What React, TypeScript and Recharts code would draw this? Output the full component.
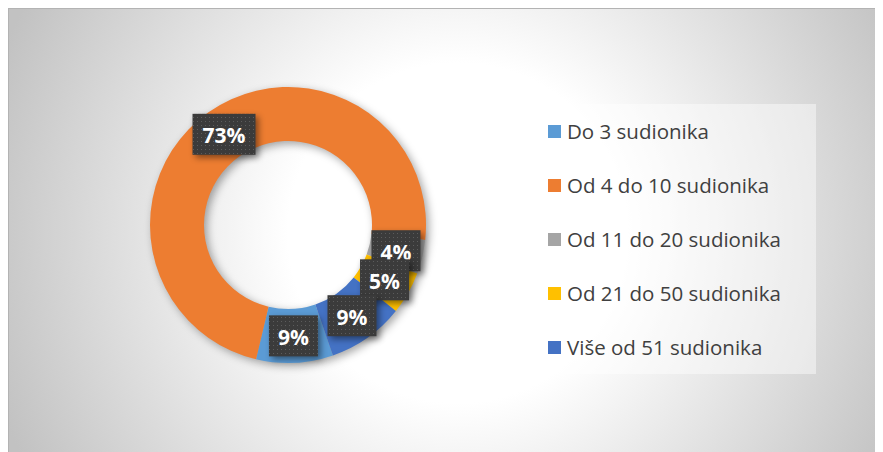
import React from 'react';
import { PieChart, Pie, Cell, Legend } from 'recharts';

const categories = [
  'Do 3 sudionika',
  'Od 4 do 10 sudionika',
  'Od 11 do 20 sudionika',
  'Od 21 do 50 sudionika',
  'Više od 51 sudionika',
];
const shares = [9, 73, 4, 5, 9];
const colors = ['#5B9BD5', '#ED7D31', '#A5A5A5', '#FFC000', '#4472C4'];

const data = categories.map((name, i) => ({ name, value: shares[i] }));

const RAD = Math.PI / 180;

const renderLabel = (props: any) => {
  const { cx, cy, midAngle, innerRadius, outerRadius, percent, index } = props;
  const r = (innerRadius + outerRadius) / 2;
  const x = cx + r * Math.cos(-midAngle * RAD);
  const y = cy + r * Math.sin(-midAngle * RAD);
  const text = `${Math.round(percent * 100)}%`;
  const w = 21 + 14 * text.length;
  const h = 41;
  const pid = `dots-${index}`;
  return (
    <g key={`lbl-${index}`}>
      <defs>
        <pattern id={pid} x="0" y="0" width="4" height="4" patternUnits="userSpaceOnUse">
          <rect x="0" y="0" width="4" height="4" fill="#3b3b3b" />
          <rect x="1" y="1" width="1" height="1" fill="#5c5c5c" />
        </pattern>
      </defs>
      <rect
        x={x - w / 2}
        y={y - h / 2}
        width={w}
        height={h}
        fill={`url(#${pid})`}
        style={{ filter: 'drop-shadow(3px 3px 3px rgba(0,0,0,0.45))' }}
      />
      <text
        x={x}
        y={y + 1}
        textAnchor="middle"
        dominantBaseline="central"
        fill="#ffffff"
        fontFamily="'Open Sans', 'DejaVu Sans', sans-serif"
        fontWeight={700}
        fontSize={21}
      >
        {text}
      </text>
    </g>
  );
};

const renderLegend = (props: any) => {
  const payload = [...(props.payload || [])].sort(
    (a: any, b: any) => categories.indexOf(a.value) - categories.indexOf(b.value)
  );
  return (
    <div style={{ width: '100%', height: '100%' }}>
      {payload.map((entry: any, i: number) => (
        <div
          key={`leg-${i}`}
          style={{
            position: 'absolute',
            left: 34,
            top: i * 54,
            height: 54,
            display: 'flex',
            alignItems: 'center',
            whiteSpace: 'nowrap',
          }}
        >
          <span
            style={{
              display: 'inline-block',
              width: 13,
              height: 13,
              background: entry.color,
              marginRight: 6,
            }}
          />
          <span
            style={{
              fontFamily: "'Open Sans', Lato, sans-serif",
              fontSize: 20.5,
              color: '#404040',
            }}
          >
            {entry.value}
          </span>
        </div>
      ))}
    </div>
  );
};

export default function App() {
  return (
    <div
      style={{
        position: 'relative',
        width: 875,
        height: 444,
        background:
          'radial-gradient(circle at 450px 225px, #ffffff 0px, #ffffff 170px, #c2c2c2 490px)',
        boxShadow: 'inset 1px 1px 0 #b3b3b3',
      }}
    >
      <style>{`.donut-shadow .recharts-pie { filter: drop-shadow(3px 3px 4px rgba(0,0,0,0.35)); }`}</style>
      <div className="donut-shadow">
        <PieChart width={875} height={444}>
          <Pie
            data={data}
            dataKey="value"
            nameKey="name"
            cx={275}
            cy={212}
            innerRadius={84}
            outerRadius={138}
            startAngle={-71}
            endAngle={-431}
            stroke="none"
            labelLine={false}
            label={renderLabel}
            isAnimationActive={false}
          >
            {data.map((d, i) => (
              <Cell key={`c-${i}`} fill={colors[i]} />
            ))}
          </Pie>
          <Legend
            layout="vertical"
            align="right"
            verticalAlign="top"
            content={renderLegend}
            wrapperStyle={{
              position: 'absolute',
              left: 506,
              top: 96,
              width: 302,
              height: 270,
              background: 'rgba(255,255,255,0.45)',
            }}
          />
        </PieChart>
      </div>
    </div>
  );
}
